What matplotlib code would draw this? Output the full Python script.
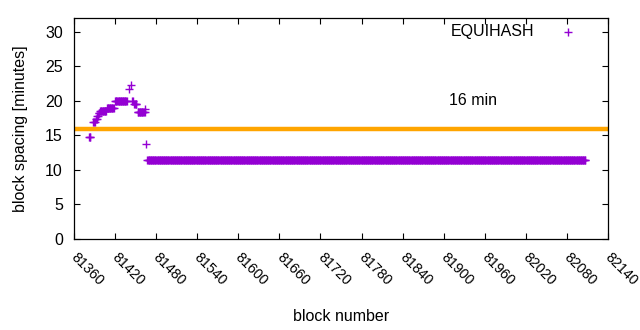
import numpy as np
import matplotlib.pyplot as plt

plt.rcParams['font.family'] = ['Liberation Sans', 'DejaVu Sans']

# runs of blocks: first block, last block, spacing [min]
run_first = [81382, 81388, 81392, 81394, 81396, 81398, 81408, 81420, 81440, 81443,
             81445, 81448, 81453, 81464, 81465, 81467]
run_last = [81384, 81390, 81393, 81395, 81397, 81407, 81418, 81437, 81440, 81443,
            81446, 81451, 81463, 81464, 81465, 82107]
run_value = [14.7, 16.9, 17.4, 17.8, 18.3, 18.5, 19.0, 20.0, 21.7, 22.3,
             20.0, 19.5, 18.4, 18.8, 13.7, 11.4]

target_spacing = 16
xtick_values = list(range(81360, 82141, 60))
ytick_values = list(range(0, 31, 5))

blocks = np.concatenate([np.arange(a, b + 1) for a, b in zip(run_first, run_last)])
spacing = np.concatenate([np.full(b - a + 1, v) for a, b, v in zip(run_first, run_last, run_value)])

fs = 11.5
fig = plt.figure(figsize=(6.4, 3.3), dpi=100)
ax = fig.add_axes([74/640, 91/330, 534/640, 221/330])

ax.axhline(target_spacing, color='#FFA500', lw=3.2, zorder=1)
ax.plot(blocks, spacing, '+', color='#9400D3', ms=5.8, mew=1.0, zorder=2)

ax.set_xlim(81360, 82140)
ax.set_ylim(0, 32)
ax.set_xticks(xtick_values)
ax.set_xticklabels([])
ax.set_yticks(ytick_values)
ax.tick_params(direction='in', top=True, right=True, length=4, labelsize=fs, width=0.8)
ax.tick_params(axis='y', pad=8)
for s in ax.spines.values():
    s.set_linewidth(0.9)

# rotated x tick labels, gnuplot "rotate by -45" look
for v in xtick_values:
    ax.annotate(str(v), xy=(v, 0), xycoords=('data', 'axes fraction'),
                xytext=(-2.5, -13.5), textcoords='offset points',
                rotation=-45, rotation_mode='anchor', ha='left', va='baseline',
                fontsize=10.3, annotation_clip=False)

ax.set_xlabel('block number', fontsize=fs, labelpad=47)
ax.set_ylabel('block spacing [minutes]', fontsize=fs, labelpad=12)

ax.text(81908, 20.0, '16 min', fontsize=fs, va='center', ha='left')

# legend drawn gnuplot style
ax.text(82033, 30.0, 'EQUIHASH', fontsize=fs, va='center', ha='right')
ax.plot([82081], [30.0], '+', color='#9400D3', ms=5.8, mew=1.0)

fig.savefig('out.png', dpi=100)
